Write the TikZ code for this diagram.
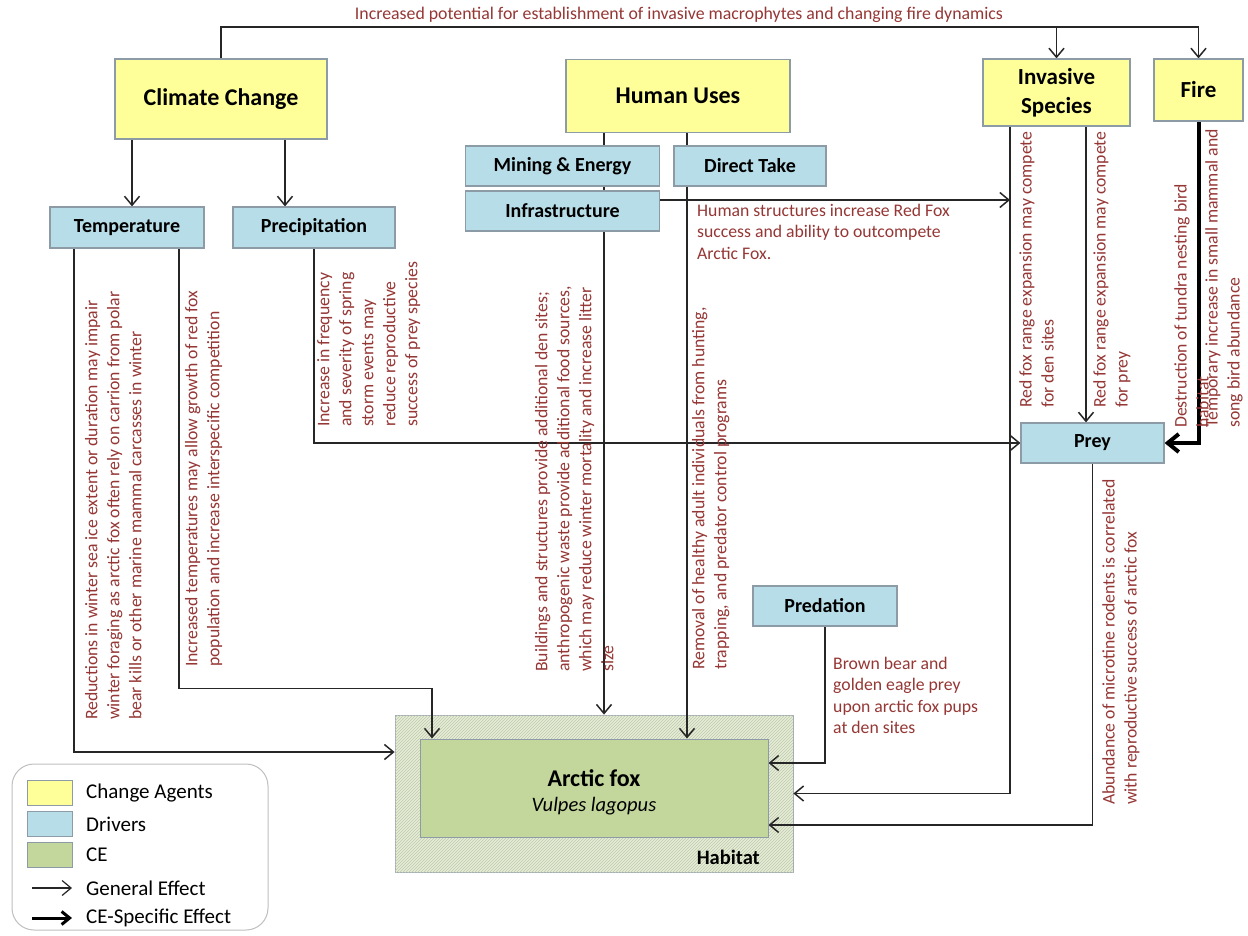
\documentclass[tikz,border=0pt]{standalone}
\usepackage{fontspec}
\setmainfont{Carlito}
\usetikzlibrary{arrows.meta,calc,backgrounds,patterns}
\definecolor{agentY}{RGB}{255,255,153}
\definecolor{drvB}{RGB}{183,222,232}
\definecolor{ceG}{RGB}{195,214,155}
\definecolor{habG}{RGB}{230,238,212}
\definecolor{habP}{RGB}{190,198,178}
\definecolor{bordG}{RGB}{140,155,165}
\definecolor{txtred}{RGB}{149,55,53}
\begin{document}
\begin{tikzpicture}[x=1pt,y=-1pt,
  agent/.style={draw=bordG, line width=1.2pt, fill=agentY, inner sep=0pt, align=center},
  driver/.style={draw=bordG, line width=1.2pt, fill=drvB, inner sep=0pt, align=center, font=\bfseries\fontsize{20}{24}\selectfont},
  rtxt/.style={rotate=90, anchor=north west, align=left, inner sep=0pt, text=txtred, font=\fontsize{17.7}{22}\selectfont},
  htxt/.style={anchor=north west, align=left, inner sep=0pt, text=txtred, font=\fontsize{17.7}{21.4}\selectfont},
  arr/.style={-{Straight Barb[length=9pt,width=15pt]}, line width=1.5pt, draw=black!85},
  thickarr/.style={-{Straight Barb[length=11pt,width=18pt]}, line width=4pt, draw=black},
  legtxt/.style={anchor=west, inner sep=0pt, font=\fontsize{21}{24}\selectfont}
]
\useasboundingbox (0,0) rectangle (1248,936);

% ---------- boxes ----------
\node[agent, minimum width=212, minimum height=80, font=\bfseries\fontsize{24}{28}\selectfont] (cc) at (221,99) {Climate Change};
\node[agent, minimum width=224, minimum height=73, font=\bfseries\fontsize{24}{28}\selectfont] (hu) at (678,96) {Human Uses};
\node[agent, minimum width=147, minimum height=67, font=\bfseries\fontsize{23}{29}\selectfont] (inv) at (1056.5,92.5) {Invasive\\Species};
\node[agent, minimum width=89, minimum height=62, font=\bfseries\fontsize{23}{28}\selectfont] (fire) at (1198.5,90) {Fire};

\node[driver, minimum width=154, minimum height=41] (temp) at (127,227.5) {Temperature};
\node[driver, minimum width=162, minimum height=41] (prec) at (314,227.5) {Precipitation};
\node[driver, minimum width=194, minimum height=40] (mine) at (562.5,166) {Mining \& Energy};
\node[driver, minimum width=152, minimum height=40] (take) at (750,166) {Direct Take};
\node[driver, minimum width=194, minimum height=40] (infra) at (562.5,211) {Infrastructure};
\node[driver, minimum width=143, minimum height=40] (prey) at (1092.5,443) {Prey};
\node[driver, minimum width=144, minimum height=40] (pred) at (825,606) {Predation};

\node[draw=bordG, line width=1pt, fill=ceG, minimum width=348, minimum height=98, inner sep=0pt] (fox) at (594,788) {};
\node[inner sep=0pt, font=\bfseries\fontsize{24}{28}\selectfont] (foxname) at (594,778) {Arctic fox};
\node[inner sep=0pt, font=\itshape\fontsize{20.5}{24}\selectfont] (foxlatin) at (594,806) {Vulpes lagopus};

% ---------- background: habitat and connectors ----------
\begin{pgfonlayer}{background}
\fill[white] (0,0) rectangle (1248,936);
\node[draw=bordG!80, line width=0.8pt, fill=habG, minimum width=398, minimum height=157, inner sep=0pt,
      postaction={pattern=north east lines, pattern color=habP}] (hab) at (594,793.5) {};
\coordinate (top) at (0,27);
\draw[arr] (cc.north) |- (fire.north |- top) -- (fire.north);
\draw[arr] (inv.north |- top) -- (inv.north);
\draw[arr] ([xshift=-89]cc.south) -- ([xshift=5]temp.north);
\draw[arr] ([xshift=64]cc.south) -- ([xshift=-29]prec.north);
\draw[arr] ([xshift=-53]temp.south) |- ($(hab.west)+(0,-41.5)$);
\draw[arr] ([xshift=52]temp.south) |- ($(fox.north)+(-162,-50)$) -- ([xshift=-162]fox.north);
\draw[arr] (prec.south) |- (prey.west);
\draw[arr] ([xshift=-74]hu.south) -- ([xshift=10]hab.north);
\draw[arr] ([xshift=9]hu.south) -- ([xshift=93]fox.north);
\coordinate (invL) at ($(inv.south)+(-46.5,0)$);
\coordinate (ia) at ($(infra.east)+(0,-11)$);
\draw[arr] (ia) -- (ia -| invL);
\draw[arr] (invL) |- (hab.east);
\draw[arr] ([xshift=29.5]inv.south) -- ([xshift=-6.5]prey.north);
\draw[thickarr] (fire.south) |- (prey.east);
\draw[arr] (prey.south) |- ($(fox.east)+(0,37)$);
\draw[arr] (pred.south) |- ($(fox.east)+(0,-25)$);
\end{pgfonlayer}

\node[inner sep=0pt, font=\bfseries\fontsize{20.5}{24}\selectfont, anchor=east] (habname) at (760,857) {Habitat};

% ---------- effect texts ----------
\node[inner sep=0pt, text=txtred, font=\fontsize{17.8}{20}\selectfont] (toptxt) at (679,15) {Increased potential for establishment of invasive macrophytes and changing fire dynamics};

\node[rtxt] (tL) at (85,720) {Reductions in winter sea ice extent or duration may impair\\winter foraging as arctic fox often rely on carrion from polar\\bear kills or other marine mammal carcasses in winter};
\node[rtxt] (tR) at (185,667) {Increased temperatures may allow growth of red fox\\population and increase interspecific competition};
\node[rtxt] (pT) at (317,427) {Increase in frequency\\and severity of spring\\storm events may\\reduce reproductive\\success of prey species};
\node[rtxt] (iT) at (535,672) {Buildings and structures provide additional den sites;\\anthropogenic waste provide additional food sources,\\which may reduce winter mortality and increase litter\\size};
\node[rtxt] (dT) at (692,670) {Removal of healthy adult  individuals from hunting,\\trapping, and predator control programs};
\node[rtxt] (ivL) at (1019,408) {Red fox range expansion may compete\\for den sites};
\node[rtxt] (ivR) at (1093,408) {Red fox range expansion may compete\\for prey};
\node[rtxt] (fT1) at (1174,428) {Destruction of  tundra nesting bird\\habitat};
\node[rtxt] (fT2) at (1205,428) {Temporary increase in small mammal and\\song bird abundance};
\node[rtxt] (pyT) at (1102,805) {Abundance of microtine rodents is correlated\\with reproductive success of arctic fox};

\node[htxt] (hsT) at (697,204) {Human structures increase Red Fox\\success and ability to outcompete\\Arctic Fox.};
\node[htxt] (bbT) at (833,657) {Brown bear and\\golden eagle prey\\upon arctic fox pups\\at den sites};

% ---------- legend ----------
\node[draw=black!25, line width=1pt, rounded corners=22pt, minimum width=256, minimum height=166, inner sep=0pt] (leg) at (140,847) {};
\node[draw=bordG, line width=1pt, fill=agentY, minimum width=45, minimum height=25, inner sep=0pt] (lgY) at (49.5,792.5) {};
\node[draw=bordG, line width=1pt, fill=drvB, minimum width=45, minimum height=25, inner sep=0pt] (lgB) at (49.5,824) {};
\node[draw=bordG, line width=1pt, fill=ceG, minimum width=45, minimum height=25, inner sep=0pt] (lgG) at (49.5,854.5) {};
\node[legtxt] (lt1) at (86,793) {Change Agents};
\node[legtxt] (lt2) at (86,824) {Drivers};
\node[legtxt] (lt3) at (86,855) {CE};
\node[legtxt] (lt4) at (86,888) {General Effect};
\node[legtxt] (lt5) at (86,918) {CE-Specific Effect};
\coordinate (la1) at (32,888);
\coordinate (la2) at (72,888);
\coordinate (lb1) at (32,918);
\coordinate (lb2) at (72,918);
\draw[arr, line width=1.2pt] (la1) -- (la2);
\draw[-{Straight Barb[length=8pt,width=13pt]}, line width=3pt] (lb1) -- (lb2);
\end{tikzpicture}
\end{document}
